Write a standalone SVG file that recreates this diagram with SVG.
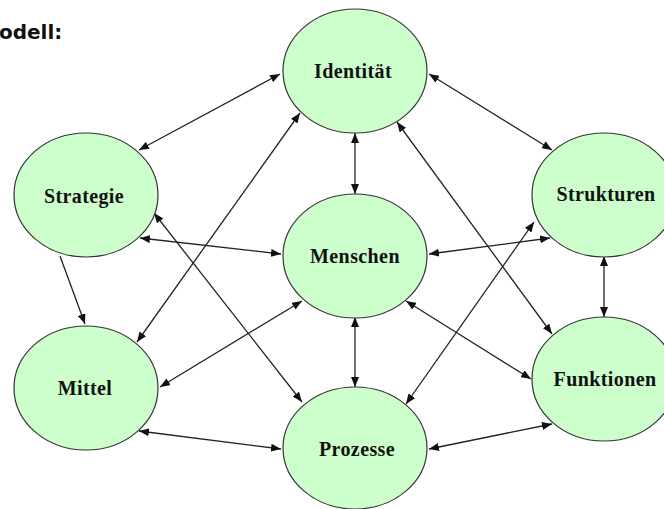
<svg xmlns="http://www.w3.org/2000/svg" width="664" height="509" viewBox="0 0 664 509">
<style>
.node ellipse{fill:#ccffcc;stroke:#333;stroke-width:1.2}
.node text{font-family:"Liberation Serif","Times New Roman",serif;font-weight:bold;font-size:20px;fill:#111;text-anchor:middle;letter-spacing:0.4px}
.edges line{stroke:#222;stroke-width:1.3}
.both{marker-start:url(#ah);marker-end:url(#ah)}
.one{marker-end:url(#ah)}
.title{font-family:"DejaVu Sans",Verdana,sans-serif;font-weight:bold;font-size:20px;fill:#111}
</style>
<defs>
<marker id="ah" viewBox="0 0 10 8" refX="10" refY="4" markerWidth="10" markerHeight="8" markerUnits="userSpaceOnUse" orient="auto-start-reverse">
<path d="M0,0 L10,4 L0,8 Z" fill="#111"/>
</marker>
</defs>
<rect width="664" height="509" fill="#fff"/>
<text class="title" x="-1" y="39">odell:</text>
<g class="edges">
<line class="both" x1="280" y1="74" x2="139" y2="150"/>
<line class="both" x1="300" y1="113" x2="137" y2="342"/>
<line class="both" x1="140" y1="238" x2="281" y2="254"/>
<line class="both" x1="154" y1="213" x2="302" y2="402"/>
<line class="one" x1="60" y1="256" x2="85" y2="324"/>
<line class="both" x1="302" y1="301" x2="160" y2="387"/>
<line class="both" x1="139" y1="431" x2="281" y2="449"/>
<line class="both" x1="355" y1="133" x2="355" y2="194"/>
<line class="both" x1="429" y1="74" x2="552" y2="150"/>
<line class="both" x1="397" y1="122" x2="552" y2="334"/>
<line class="both" x1="429" y1="254" x2="550" y2="238"/>
<line class="both" x1="534" y1="222" x2="406" y2="404"/>
<line class="both" x1="406" y1="301" x2="531" y2="379"/>
<line class="both" x1="355" y1="317" x2="355" y2="387"/>
<line class="both" x1="604" y1="256" x2="604" y2="317"/>
<line class="both" x1="429" y1="449" x2="552" y2="424"/>
</g>
<g id="identitaet" class="node"><ellipse cx="355" cy="71" rx="72" ry="62"/><text x="353" y="78">Identität</text></g>
<g id="strategie" class="node"><ellipse cx="86" cy="195" rx="72" ry="62"/><text x="84" y="203">Strategie</text></g>
<g id="mittel" class="node"><ellipse cx="86" cy="388" rx="72" ry="62"/><text x="85" y="395">Mittel</text></g>
<g id="menschen" class="node"><ellipse cx="355" cy="256" rx="72" ry="62"/><text x="355" y="263">Menschen</text></g>
<g id="prozesse" class="node"><ellipse cx="355" cy="448" rx="72" ry="61"/><text x="357" y="456">Prozesse</text></g>
<g id="strukturen" class="node"><ellipse cx="604" cy="195" rx="72" ry="62"/><text x="606" y="201">Strukturen</text></g>
<g id="funktionen" class="node"><ellipse cx="604" cy="379" rx="72" ry="62"/><text x="605" y="386">Funktionen</text></g>
</svg>
